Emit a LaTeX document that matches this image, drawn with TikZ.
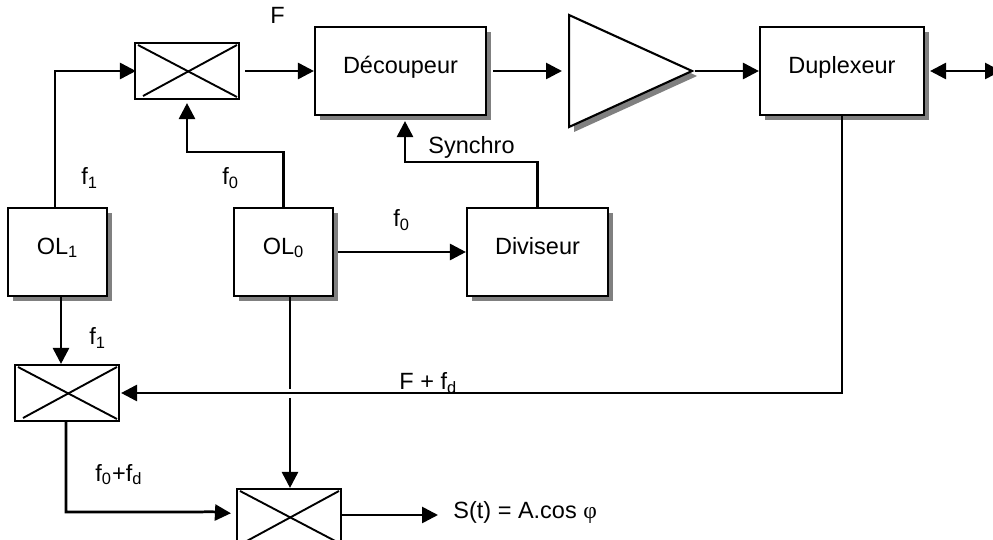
\documentclass[tikz,border=0pt]{standalone}
\usepackage{fontspec}
\setmainfont{Liberation Sans}
\newfontfamily\greekserif{Liberation Serif}
\usetikzlibrary{arrows.meta,shadows,shapes.geometric}
\definecolor{shadowcolor}{HTML}{808080}
\begin{document}
\begin{tikzpicture}[x=0.5pt,y=-0.5pt,line cap=butt,line join=miter,font=\fontsize{11.75}{14}\selectfont,
  blockshadow/.style={drop shadow={shadow xshift=2.5pt,shadow yshift=-2.5pt,fill=shadowcolor,opacity=1}},
  blockbox/.style={draw,fill=white,line width=1.05pt,inner sep=0pt,text height=8.4pt,text depth=6.2pt,blockshadow},
  mixerbox/.style={draw,fill=white,line width=1.05pt,inner sep=0pt,minimum width=52pt,minimum height=28pt,
    path picture={\draw[line width=0.95pt] ([shift={(1.5pt,-1pt)}]path picture bounding box.north west)--([shift={(-1pt,1pt)}]path picture bounding box.south east);
      \draw[line width=0.95pt] ([shift={(-1pt,-1pt)}]path picture bounding box.north east)--([shift={(4pt,1.5pt)}]path picture bounding box.south west);}},
  sigline/.style={draw,line width=1.35pt},
  sigarrow/.style={sigline,-{Triangle[length=8pt,width=8pt]}},
  freqlabel/.style={anchor=base west,inner sep=0pt}]
  \useasboundingbox (0,0) rectangle (993,540);

  \node[blockbox,minimum width=85.5pt,minimum height=44pt] (decoup) at (400.5,71) {Découpeur};
  \node[blockbox,minimum width=82pt,minimum height=44pt] (duplex) at (842,71) {Duplexeur};
  \node[blockbox,minimum width=49.5pt,minimum height=44pt] (ola) at (57.5,252) {OL\textsubscript{1}};
  \node[blockbox,minimum width=49.5pt,minimum height=44pt] (olb) at (283.5,252) {OL\textsubscript{0}};
  \node[blockbox,minimum width=70.5pt,minimum height=44pt] (divi) at (537.5,252) {Diviseur};
  \node[draw,fill=white,line width=1.05pt,inner sep=0pt,isosceles triangle,isosceles triangle stretches,
    minimum width=56pt,minimum height=61.5pt,blockshadow,anchor=lower side] (ampli) at (568,71) {};

  \node[mixerbox] (mixa) at (187,71) {};
  \node[mixerbox] (mixb) at (67,393) {};
  \node[mixerbox] (mixc) at (289,517) {};

  \foreach \name/\x/\y/\txt in {lf/270/24/F,lfa/81/185/f\textsubscript{1},lfb/222/185/f\textsubscript{0},
    lfc/393/227/f\textsubscript{0},lsync/428/154/Synchro,lfd/89/345/f\textsubscript{1},
    lfe/95/481/f\textsubscript{0}+f\textsubscript{d},lff/399/390/F + f\textsubscript{d}}{
    \node[freqlabel] (\name) at (\x,\y) {\txt};
  }
  \node[freqlabel] (lsout) at (453,518) {S(t) = A.cos {\greekserif φ}};

  \coordinate (rfport) at (1001,71);
  \coordinate (gaptop) at (290,389);
  \coordinate (gapbot) at (290,398);

  \draw[sigarrow,shorten >=-1pt] ([xshift=-1.25pt]ola.north) |- (mixa.west);
  \draw[sigarrow,shorten >=1.5pt] (olb.north) -- ++(0,-55) -| (mixa.south);
  \draw[sigarrow,shorten <=2.5pt] (mixa.east) -- (decoup.west);
  \draw[sigarrow,shorten <=3pt,shorten >=3pt] (decoup.east) -- (ampli.lower side);
  \draw[sigarrow] (ampli.apex) -- (duplex.west);
  \draw[sigline,{Triangle[length=8pt,width=8pt]}-{Triangle[length=8pt,width=8pt]},shorten <=2.5pt] (duplex.east) -- (rfport);
  \draw[sigarrow,shorten >=2.5pt] (divi.north) -- ++(0,-45) -| ([xshift=2.25pt]decoup.south);
  \draw[sigarrow,shorten <=2pt] (olb.east) -- (divi.west);
  \draw[sigarrow] ([xshift=1.75pt]ola.south) -- ([xshift=-3pt]mixb.north);
  \draw[sigarrow,shorten >=0.5pt] (duplex.south) |- (mixb.east);
  \draw[sigline] (olb.south -| gaptop) -- (gaptop);
  \draw[sigarrow] (gapbot) -- (gapbot |- mixc.north);
  \draw[sigarrow,shorten >=2.5pt] ([xshift=-0.5pt]mixb.south) -- ++(0,90) -- ++(134,0) .. controls (215,511) and (225,513) .. ([yshift=1.75pt]mixc.west);
  \draw[sigarrow,shorten >=7.5pt] ([yshift=1pt]mixc.east) -- ([yshift=1pt]mixc.east -| lsout.west);
\end{tikzpicture}
\end{document}
